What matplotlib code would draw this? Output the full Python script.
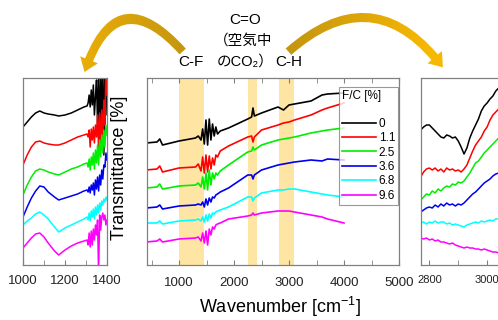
import matplotlib
matplotlib.use("Agg")
import numpy as np
import matplotlib.pyplot as plt
from matplotlib.patches import FancyArrowPatch
from matplotlib.ticker import MultipleLocator
from matplotlib.colors import LinearSegmentedColormap

plt.rcParams['font.family'] = ['Liberation Sans', 'Noto Sans CJK JP', 'DejaVu Sans']
plt.rcParams['mathtext.fontset'] = 'custom'
plt.rcParams['mathtext.rm'] = 'Liberation Sans'
plt.rcParams['mathtext.it'] = 'Liberation Sans:italic'

# F/C ratio labels and colours
labels = ["0", "1.1", "2.5", "3.6", "6.8", "9.6"]
colors = ["#000000", "#ff0000", "#00ee00", "#0000ee", "#00ffff", "#ff00ff"]

# main spectrum (arbitrary transmittance, stacked)
wn_main = [400, 600, 650, 700, 1000, 1300, 1350, 1400, 1430, 1460, 1490, 1520, 1550,
           1580, 1610, 1640, 1670, 1700, 1750, 1900, 2250, 2320, 2345, 2370, 2500,
           2800, 2900, 3000, 3100, 3400, 3600, 3700, 4000]
t_main = [
    [122, 123, 126, 120, 124, 127, 129, 125, 136, 121, 145, 120, 146, 125, 141, 129, 138,
     131, 134, 137, 146, 148, 157, 149, 152, 158, 155, 160, 161, 164, 170, 171, 172],
    [95, 96, 99, 93, 97, 98, 101, 94, 108, 92, 110, 93, 109, 96, 107, 100, 110,
     108, 114, 119, 128, 129, 123, 128, 135, 140, 142, 143, 145, 150, 155, 157, 162],
    [77, 78, 81, 76, 79, 80, 82, 78, 88, 76, 92, 75, 95, 80, 92, 86, 92,
     90, 94, 100, 113, 114, 118, 115, 120, 125, 126, 127, 128, 132, 134, 135, 137],
    [57, 58, 60, 56, 59, 60, 61, 60, 63, 58, 66, 60, 67, 63, 68, 67, 70,
     71, 73, 77, 90, 90, 86, 90, 95, 100, 101, 102, 103, 105, 104, 106, 105],
    [42, 42, 44, 41, 44, 45, 46, 44, 48, 43, 50, 44, 51, 47, 52, 51, 53,
     54, 55, 58, 68, 68, 64, 67, 72, 75, 75, 76, 76, 73, 71, 70, 68],
    [23, 24, 26, 23, 26, 27, 28, 24, 32, 22, 34, 20, 36, 30, 38, 36, 40,
     41, 42, 46, 49, 50, 52, 50, 52, 54, 54, 54, 53, 50, 48, 46, 42],
]

# left zoom, 1000-1400 cm-1
wn_left = [1000, 1020, 1040, 1060, 1080, 1100, 1120, 1150, 1170, 1200, 1230, 1260, 1290,
           1305, 1310, 1315, 1320, 1325, 1330, 1335, 1340, 1345, 1350, 1355, 1360, 1365,
           1370, 1375, 1380, 1385, 1390, 1395, 1400]
t_left = [
    [138, 143, 148, 152, 154, 152, 151, 150, 149, 150, 152, 155, 158, 159, 162, 170, 158,
     175, 160, 180, 150, 168, 185, 140, 190, 120, 200, 130, 200, 110, 200, 150, 200],
    [100, 110, 118, 123, 124, 122, 121, 120, 120, 122, 125, 128, 130, 131, 128, 135, 118,
     136, 125, 138, 122, 140, 128, 150, 115, 152, 118, 155, 125, 165, 140, 200, 170],
    [70, 80, 88, 94, 96, 95, 93, 91, 90, 93, 96, 98, 101, 102, 98, 106, 95,
     108, 100, 112, 96, 115, 102, 120, 100, 125, 108, 130, 112, 135, 118, 140, 130],
    [48, 58, 67, 74, 79, 78, 73, 68, 65, 67, 69, 71, 74, 75, 73, 78, 72,
     80, 75, 82, 70, 85, 76, 88, 74, 90, 80, 95, 86, 100, 98, 112, 105],
    [40, 44, 47, 51, 53, 50, 46, 38, 33, 37, 40, 43, 46, 48, 45, 52, 44,
     54, 48, 56, 46, 58, 50, 60, 52, 62, 55, 64, 60, 66, 63, 68, 65],
    [17, 22, 27, 31, 32, 28, 22, 14, 10, 15, 19, 22, 24, 25, 20, 32, 18,
     34, 20, 36, 25, 40, 30, 45, -10, 50, 35, 48, 52, 45, 50, 40, 45],
]

# right zoom, C-H region
wn_right = [2770, 2780, 2790, 2800, 2810, 2820, 2830, 2840, 2850, 2860, 2870, 2880, 2890,
            2900, 2910, 2920, 2930, 2940, 2950, 2960, 2970, 2980, 2990, 3000, 3010, 3020,
            3030, 3040, 3060]
t_right = [
    [135, 138, 140, 140, 137, 134, 131, 128, 127, 130, 129, 127, 128, 124, 118, 111, 117,
     127, 134, 140, 146, 154, 159, 162, 166, 169, 174, 177, 182],
    [88, 93, 96, 97, 95, 97, 94, 96, 93, 97, 95, 96, 94, 95, 93, 96, 100,
     107, 114, 120, 124, 128, 134, 138, 145, 150, 153, 156, 160],
    [65, 68, 71, 70, 74, 72, 76, 74, 77, 79, 78, 81, 80, 83, 82, 84, 88,
     92, 97, 102, 104, 108, 112, 115, 118, 121, 124, 127, 132],
    [53, 55, 57, 58, 57, 60, 58, 61, 59, 62, 60, 61, 59, 61, 60, 62, 65,
     68, 71, 73, 76, 79, 82, 84, 86, 89, 91, 92, 95],
    [42, 43, 41, 43, 42, 44, 42, 43, 43, 41, 42, 40, 41, 40, 39, 38, 40,
     41, 42, 43, 42, 44, 43, 44, 45, 44, 46, 46, 47],
    [27, 26, 27, 25, 26, 24, 25, 23, 23, 22, 21, 22, 20, 19, 18, 17, 18,
     17, 17, 16, 16, 15, 16, 15, 14, 13, 13, 12, 11],
]

bands = [(1000, 1450), (2250, 2410), (2810, 3090)]

fig = plt.figure(figsize=(4.98, 3.2), dpi=100)
W, H = 498.0, 320.0


def px_axes(x0, x1, y0, y1):
    return fig.add_axes([x0 / W, 1 - y1 / H, (x1 - x0) / W, (y1 - y0) / H])


def style(ax):
    for s in ax.spines.values():
        s.set_color("#808080")
        s.set_linewidth(0.9)
    ax.set_yticks([])
    ax.tick_params(axis="x", which="both", direction="in", length=3.5, color="#808080",
                   labelcolor="#222222")
    ax.set_ylim(0, 187)


# main panel
ax = px_axes(147, 399, 78, 265)
style(ax)
for lo, hi in bands:
    ax.axvspan(lo, hi, color="#ffe5a3", lw=0, zorder=0)
for y, c, lab in zip(t_main, colors, labels):
    ax.plot(wn_main, y, color=c, lw=1.2, label=lab)
ax.set_xlim(418, 5000)
ax.xaxis.set_major_locator(MultipleLocator(1000))
ax.xaxis.set_minor_locator(MultipleLocator(500))
ax.tick_params(axis="x", which="both", top=True, labelsize=9.5, pad=9)
leg = ax.legend(title="F/C [%]\n", loc="upper right", bbox_to_anchor=(0.997, 0.953),
                fontsize=8.5, title_fontsize=8.5, frameon=True, fancybox=False,
                edgecolor="#808080", borderpad=0.25, handlelength=2.9,
                handletextpad=0.2, labelspacing=0.2, borderaxespad=0)
leg._legend_box.align = "left"
leg.get_frame().set_linewidth(0.8)

# left zoom
axl = px_axes(23, 107, 78, 265)
style(axl)
for y, c in zip(t_left, colors):
    axl.plot(wn_left, y, color=c, lw=1.1)
axl.set_xlim(1000, 1400)
axl.xaxis.set_major_locator(MultipleLocator(200))
axl.xaxis.set_minor_locator(MultipleLocator(100))
axl.tick_params(axis="x", which="both", labelsize=9.5, pad=7)

# right zoom (runs off the figure edge)
axr = px_axes(420.7, 516, 78, 265)
style(axr)
for y, c in zip(t_right, colors):
    axr.plot(wn_right, y, color=c, lw=1.1)
axr.set_xlim(2770, 3100)
axr.xaxis.set_major_locator(MultipleLocator(200))
axr.xaxis.set_minor_locator(MultipleLocator(100))
axr.tick_params(axis="x", which="both", labelsize=8, pad=7)

fig.text(120 / W, 1 - 168 / H, "Transmittance [%]", rotation=90, ha="center",
         va="center", fontsize=13)
fig.text(280 / W, 1 - 307 / H, "Wavenumber [cm$^{-1}$]", ha="center", va="center",
         fontsize=13)

# overlay for arrows and labels, in pixel coordinates
ov = fig.add_axes([0, 0, 1, 1], zorder=5)
ov.axis("off")
ov.patch.set_alpha(0)

gold = LinearSegmentedColormap.from_list("gold", ["#c4960f", "#dca50a", "#f6b800"])
shade = np.abs(np.linspace(0, W, 300) - 237)[None, :]

arrow_style = "simple,head_length=13,head_width=19,tail_width=8.5"
arrows = [FancyArrowPatch((184, 53), (84, 74), arrowstyle=arrow_style,
                          connectionstyle="arc3,rad=0.88"),
          FancyArrowPatch((287, 53), (444, 69), arrowstyle=arrow_style,
                          connectionstyle="arc3,rad=-0.55")]
for arr in arrows:
    arr.set_facecolor("none")
    arr.set_edgecolor("none")
    ov.add_patch(arr)
    im = ov.imshow(shade, extent=(0, W, H, 0), cmap=gold, vmin=50, vmax=190,
                   aspect="auto", interpolation="bilinear")
    im.set_clip_path(arr)
ov.set_xlim(0, W)
ov.set_ylim(H, 0)

ov.text(245, 20, "C=O", ha="center", va="center", fontsize=11)
ov.text(243, 41, "（空気中", ha="center", va="center", fontsize=10.5)
ov.text(245, 62, "のCO₂）", ha="center", va="center", fontsize=10.5)
ov.text(191, 62, "C-F", ha="center", va="center", fontsize=11)
ov.text(289, 62, "C-H", ha="center", va="center", fontsize=11)

fig.savefig("out.png", dpi=100)
